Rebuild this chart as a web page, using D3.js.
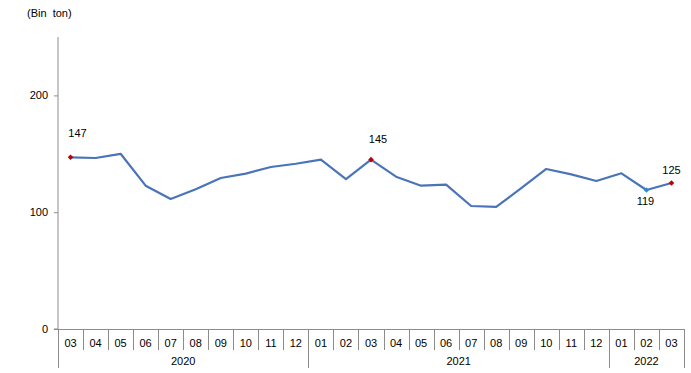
<!DOCTYPE html>
<html><head><meta charset="utf-8">
<script src="https://cdn.jsdelivr.net/npm/d3@7"></script>
<style>body{margin:0;background:#fff}svg{display:block;font-family:Arial,"Liberation Sans",sans-serif}</style>
</head><body><svg id="c" width="691" height="373"></svg>
<script>
const months = ["03","04","05","06","07","08","09","10","11","12","01","02","03","04","05","06","07","08","09","10","11","12","01","02","03"];
const years = [{label:"2020",n:10},{label:"2021",n:12},{label:"2022",n:3}];
const values = [147,146.4,150,122.7,111.3,119.6,129.3,133,138.7,141.5,145,128.4,145,130.4,122.7,123.6,105.3,104.5,120.7,137,132.4,126.7,133.3,119,125];
const yTicks = [0,100,200];
const labels = [{i:0,text:"147",dx:7,dy:-24,color:"#c00000"},{i:12,text:"145",dx:7,dy:-21,color:"#c00000"},{i:23,text:"119",dx:-1,dy:11,color:"#2f8ccb"},{i:24,text:"125",dx:0,dy:-13,color:"#c00000"}];

(function(){
const svg = d3.select("#c");
const mL = 58, mR = 684, mT = 37, mB = 329;
const x = d3.scaleBand().domain(d3.range(values.length)).range([mL, mR]);
const y = d3.scaleLinear().domain([0, 250]).range([mB, mT]);
const axisColor = "#8c8c8c";

svg.append("text").attr("x", 27).attr("y", 17).attr("font-size", 11).attr("fill", "#000")
  .style("white-space","pre").text("(Bin  ton)");

// y axis
const ya = svg.append("g").attr("transform", `translate(${mL},0)`)
  .call(d3.axisLeft(y).tickValues(yTicks).tickSize(4).tickPadding(6).tickFormat(d3.format("d")));
ya.select(".domain").attr("stroke", axisColor).attr("d", `M-4,${mB}H0V${mT}`);
ya.selectAll(".tick line").attr("stroke", axisColor);
ya.selectAll(".tick text").attr("font-size", 11).attr("fill", "#000").attr("font-family", "Arial, 'Liberation Sans', sans-serif");

// x axis
svg.append("line").attr("x1", mL).attr("x2", mR).attr("y1", mB+0.5).attr("y2", mB+0.5).attr("stroke", axisColor);
const xa = svg.append("g");
let cum = 0;
const yearStarts = new Set([0]);
years.forEach(yy => { cum += yy.n; yearStarts.add(cum); });
for (let i = 0; i <= values.length; i++) {
  const xp = i < values.length ? x(i) : x.range()[1];
  const isYear = yearStarts.has(i);
  xa.append("line").attr("x1", Math.round(xp)+0.5).attr("x2", Math.round(xp)+0.5)
    .attr("y1", mB).attr("y2", isYear ? 368 : 350).attr("stroke", axisColor);
}
xa.selectAll("text.m").data(months).join("text").attr("class","m")
  .attr("x", (d,i) => x(i) + x.bandwidth()/2).attr("y", 347)
  .attr("text-anchor","middle").attr("font-size", 11).text(d => d);
let start = 0;
years.forEach(yy => {
  const x0 = x(start), x1 = start + yy.n < values.length ? x(start + yy.n) : mR;
  xa.append("text").attr("x", (x0 + x1)/2).attr("y", 365).attr("text-anchor","middle")
    .attr("font-size", 11).text(yy.label);
  start += yy.n;
});

// line
const line = d3.line().x((d,i) => x(i) + x.bandwidth()/2).y(d => y(d));
svg.append("path").datum(values).attr("d", line).attr("fill","none")
  .attr("stroke", "#4a74b9").attr("stroke-width", 2.2).attr("stroke-linejoin","round");

// markers and labels
labels.forEach(l => {
  const cx = x(l.i) + x.bandwidth()/2, cy = y(values[l.i]);
  svg.append("path").attr("d", d3.symbol(d3.symbolDiamond2, 20)()).attr("transform", `translate(${cx},${cy})`)
    .attr("fill", l.color);
  svg.append("text").attr("x", cx + l.dx).attr("y", cy + l.dy + 4).attr("text-anchor","middle")
    .attr("font-size", 11).text(l.text);
});
})();
</script></body></html>
